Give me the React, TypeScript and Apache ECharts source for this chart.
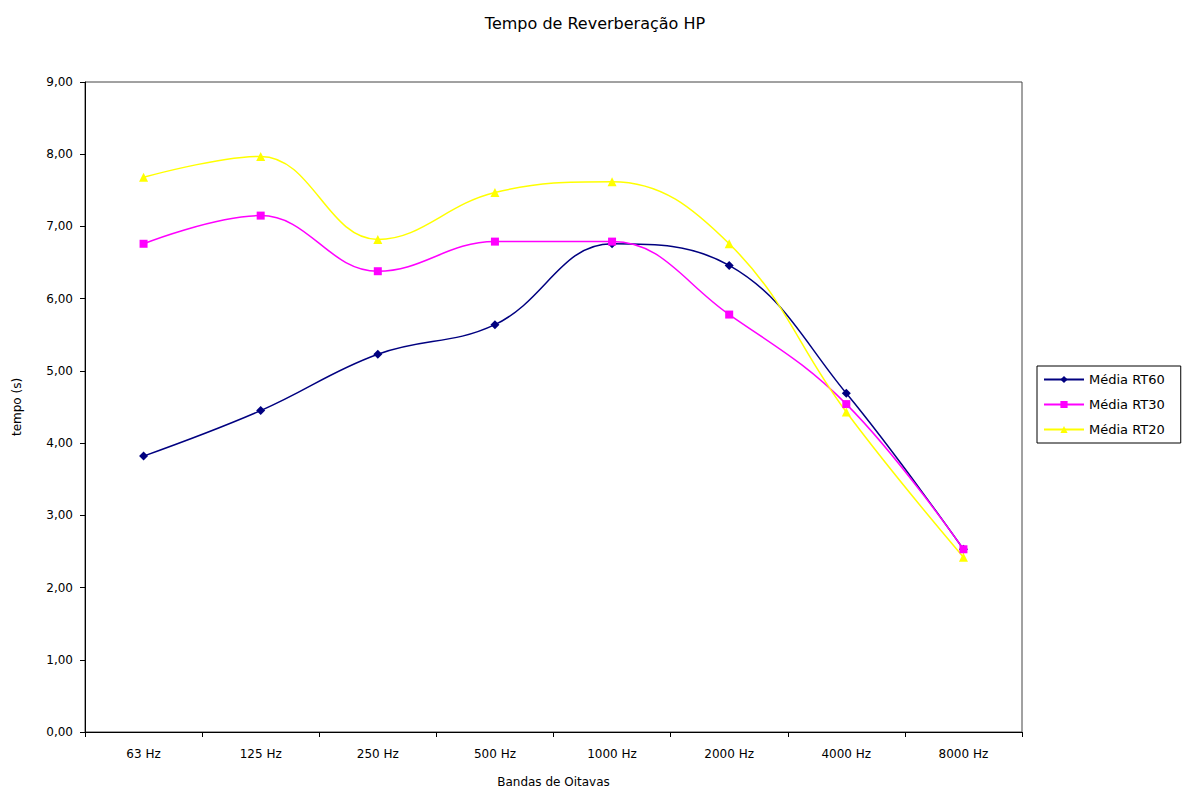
import React, { useEffect, useRef } from "react";
import * as echarts from "echarts";

const categories = ["63 Hz", "125 Hz", "250 Hz", "500 Hz", "1000 Hz", "2000 Hz", "4000 Hz", "8000 Hz"];
const rt60 = [3.82, 4.45, 5.23, 5.64, 6.76, 6.46, 4.69, 2.53];
const rt30 = [6.76, 7.15, 6.38, 6.79, 6.79, 5.78, 4.54, 2.53];
const rt20 = [7.68, 7.97, 6.82, 7.47, 7.62, 6.76, 4.43, 2.42];
const seriesNames = ["Média RT60", "Média RT30", "Média RT20"];

const FONT = "DejaVu Sans, Verdana, sans-serif";

export default function App() {
  const ref = useRef<HTMLDivElement>(null);
  useEffect(() => {
    if (!ref.current) return;
    const chart = echarts.init(ref.current, undefined, { renderer: "svg" });
    const mk = (name: string, data: number[], color: string, symbol: string, size: number) => ({
      name,
      type: "line",
      data,
      smooth: 0.4,
      symbol,
      symbolSize: size,
      showSymbol: true,
      lineStyle: { color, width: 1.5 },
      itemStyle: { color, borderWidth: 0 },
    });
    chart.setOption({
      animation: false,
      backgroundColor: "#ffffff",
      textStyle: { fontFamily: FONT },
      title: {
        text: "Tempo de Reverberação HP",
        left: 590,
        top: 10,
        textAlign: "center",
        textStyle: { fontSize: 16, fontWeight: "normal", color: "#000", fontFamily: FONT },
      },
      grid: {
        left: 85,
        top: 82,
        right: 167,
        bottom: 62,
        show: true,
        borderColor: "#444",
        borderWidth: 1,
        backgroundColor: "#ffffff",
      },
      legend: {
        orient: "vertical",
        left: 1037,
        top: 366,
        data: seriesNames,
        borderColor: "#000",
        borderWidth: 1,
        padding: [7, 16, 7, 6],
        itemGap: 12,
        itemWidth: 40,
        itemHeight: 9,
        textStyle: { fontSize: 13, color: "#000", fontFamily: FONT },
      },
      xAxis: {
        type: "category",
        data: categories,
        boundaryGap: true,
        name: "Bandas de Oitavas",
        nameLocation: "middle",
        nameGap: 44,
        nameTextStyle: { fontSize: 12, color: "#000", fontFamily: FONT },
        axisLine: { lineStyle: { color: "#000", width: 1 } },
        axisTick: { show: true, length: 5, lineStyle: { color: "#000" } },
        axisLabel: { fontSize: 12, color: "#000", margin: 16, fontFamily: FONT },
        splitLine: { show: false },
      },
      yAxis: {
        type: "value",
        min: 0,
        max: 9,
        interval: 1,
        name: "tempo (s)",
        nameLocation: "middle",
        nameGap: 62,
        nameTextStyle: { fontSize: 12, color: "#000", fontFamily: FONT },
        axisLine: { show: true, lineStyle: { color: "#000", width: 1 } },
        axisTick: { show: true, length: 5, lineStyle: { color: "#000" } },
        axisLabel: {
          fontSize: 12,
          color: "#000",
          margin: 12,
          fontFamily: FONT,
          formatter: (v: number) => v.toFixed(2).replace(".", ","),
        },
        splitLine: { show: false },
      },
      series: [
        mk(seriesNames[0], rt60, "#000080", "diamond", 9),
        mk(seriesNames[1], rt30, "#ff00ff", "rect", 8),
        mk(seriesNames[2], rt20, "#ffff00", "triangle", 9),
      ],
    });
    return () => chart.dispose();
  }, []);
  return <div ref={ref} style={{ width: 1189, height: 794, position: "absolute", left: 0, top: 0 }} />;
}
